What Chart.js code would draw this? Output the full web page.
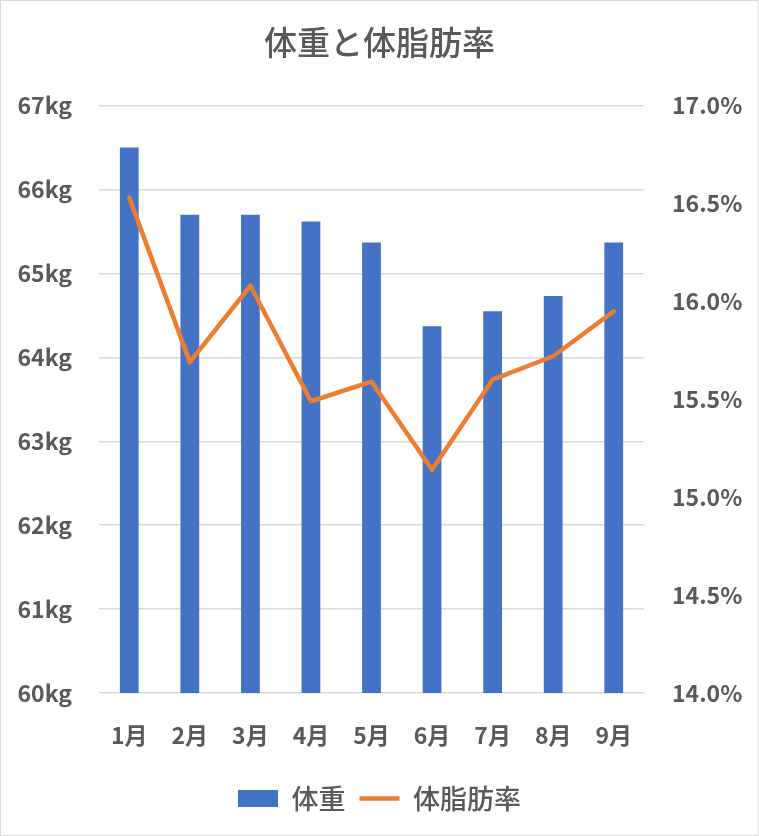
<!DOCTYPE html>
<html>
<head>
<meta charset="utf-8">
<script src="https://cdn.jsdelivr.net/npm/chart.js@4"></script>
<style>
  html, body { margin: 0; padding: 0; background: #fff; }
  #wrap { position: absolute; left: 0; top: 0; width: 759px; height: 836px; box-sizing: border-box; border: 1px solid #d9d9d9; background: #fff; }
  #c { display: block; }
</style>
</head>
<body>
<div id="wrap"><canvas id="c" width="757" height="834"></canvas></div>
<script>
const categories = ['1月', '2月', '3月', '4月', '5月', '6月', '7月', '8月', '9月'];
const weightKg = [66.5, 65.7, 65.7, 65.62, 65.37, 64.37, 64.55, 64.73, 65.37];
const bodyFatPct = [16.53, 15.69, 16.08, 15.49, 15.59, 15.14, 15.60, 15.72, 15.95];
const seriesNames = ['体重', '体脂肪率'];
const titleText = '体重と体脂肪率';

const FONT = "'Noto Sans CJK JP', 'Noto Sans', sans-serif";
const TXT = '#595959';

new Chart(document.getElementById('c'), {
  data: {
    labels: categories,
    datasets: [
      {
        type: 'bar',
        label: seriesNames[0],
        data: weightKg,
        yAxisID: 'y',
        backgroundColor: '#4472C4',
        borderWidth: 0,
        barPercentage: 0.31,
        categoryPercentage: 1,
        order: 2
      },
      {
        type: 'line',
        label: seriesNames[1],
        data: bodyFatPct,
        yAxisID: 'y1',
        borderColor: '#ED7D31',
        backgroundColor: '#ED7D31',
        borderWidth: 4.5,
        pointRadius: 0,
        pointHoverRadius: 0,
        tension: 0,
        borderJoinStyle: 'round',
        borderCapStyle: 'round',
        order: 1
      }
    ]
  },
  options: {
    responsive: false,
    animation: false,
    layout: { padding: { left: 0, right: 0, top: 0, bottom: 13 } },
    plugins: {
      tooltip: { enabled: false },
      title: {
        display: true,
        text: titleText,
        color: TXT,
        font: { family: FONT, size: 33, weight: '500' },
        padding: { top: 22, bottom: 43 }
      },
      legend: {
        position: 'bottom',
        labels: {
          color: TXT,
          font: { family: FONT, size: 27, weight: '500' },
          usePointStyle: true,
          pointStyleWidth: 40,
          boxHeight: 17,
          padding: 14,
          generateLabels: (chart) => chart.data.datasets.map((ds, i) => ({
            text: ds.label,
            fillStyle: ds.type === 'bar' ? ds.backgroundColor : ds.borderColor,
            strokeStyle: ds.type === 'bar' ? ds.backgroundColor : ds.borderColor,
            lineWidth: ds.type === 'bar' ? 0 : 4.5,
            pointStyle: ds.type === 'bar' ? 'rect' : 'line',
            fontColor: TXT,
            hidden: false,
            datasetIndex: i
          }))
        }
      }
    },
    scales: {
      x: {
        grid: { display: false, drawTicks: false },
        border: { display: false },
        ticks: { color: TXT, font: { family: FONT, size: 23, weight: 'bold' }, padding: 28 },
        afterFit: (s) => { s.height = 78; }
      },
      y: {
        position: 'left',
        min: 60, max: 67,
        ticks: {
          stepSize: 1,
          color: TXT,
          font: { family: FONT, size: 23, weight: 'bold' },
          padding: 27,
          callback: (v) => v + 'kg'
        },
        grid: { color: '#d9d9d9', lineWidth: 1.5, drawTicks: false },
        border: { display: false },
        afterFit: (s) => { s.width = 98; }
      },
      y1: {
        position: 'right',
        min: 14, max: 17,
        ticks: {
          stepSize: 0.5,
          color: TXT,
          font: { family: FONT, size: 23, weight: 'bold' },
          padding: 28,
          callback: (v) => Number(v).toFixed(1) + '%'
        },
        grid: { display: false, drawTicks: false },
        border: { display: false },
        afterFit: (s) => { s.width = 114; }
      }
    }
  }
});
</script>
</body>
</html>
